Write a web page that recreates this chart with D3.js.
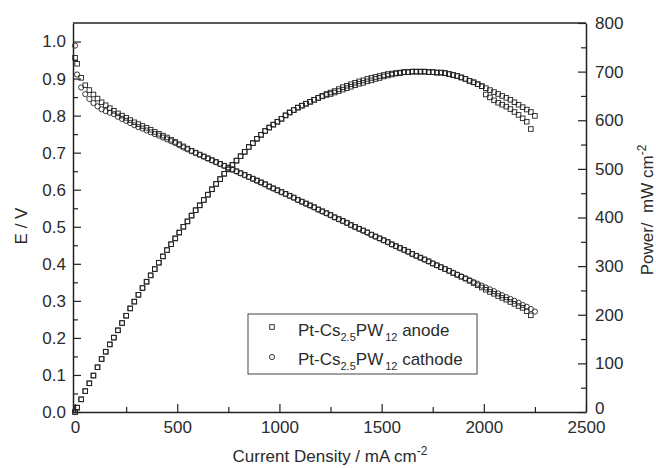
<!DOCTYPE html>
<html>
<head>
<meta charset="utf-8">
<title>Polarization and power density</title>
<script src="https://cdn.jsdelivr.net/npm/d3@7"></script>
<style>
  body { margin: 0; background: #fff; }
  svg text { font-family: "Liberation Sans", Arial, Helvetica, sans-serif; fill: #2b2b2b; }
</style>
</head>
<body>
<div id="chart"></div>
<script>

// data (current density in mA cm-2)
const current = [0,10,30,50,70,90,110,130,150,170,190,210,230,250,270,290,310,330,350,370,390,410,430,450,470,490,
  510,530,550,570,590,610,630,650,670,690,710,730,750,770,790,810,830,850,870,890,910,930,950,970,990,
  1010,1030,1050,1070,1090,1110,1130,1150,1170,1190,1210,1230,1250,1270,1290,1310,1330,1350,1370,1390,
  1410,1430,1450,1470,1490,1510,1530,1550,1570,1590,1610,1630,1650,1670,1690,1710,1730,1750,1770,1790,
  1810,1830,1850,1870,1890,1910,1930,1950,1970,1990,2010,2030,2050,2070,2090,2110,2130,2150,2170,2190,
  2210,2230,2250];

// cell voltage, V
const anodeE = [.956,.940,.902,.882,.869,.857,.846,.836,.828,.820,.813,.806,.800,.794,.788,.782,.777,.772,.767,.762,
  .756,.751,.746,.741,.735,.729,.723,.717,.711,.705,.700,.695,.690,.685,.680,.675,.670,.665,.660,.655,
  .650,.645,.640,.635,.630,.625,.620,.615,.609,.604,.599,.594,.589,.584,.579,.573,.568,.563,.558,.553,
  .547,.542,.537,.532,.526,.521,.516,.511,.505,.500,.495,.490,.485,.479,.474,.469,.464,.459,.453,.448,
  .443,.438,.433,.427,.422,.417,.412,.407,.401,.396,.391,.386,.381,.375,.370,.365,.360,.354,.348,.342,
  .336,.330,.324,.319,.313,.308,.303,.297,.292,.286,.281,.272,.261];
const cathodeE = [.989,.911,.876,.858,.845,.834,.825,.817,.812,.808,.804,.797,.791,.786,.780,.774,.769,.765,.760,.755,
  .750,.746,.741,.736,.731,.726,.720,.714,.709,.704,.699,.694,.689,.684,.679,.674,.669,.664,.659,.654,
  .649,.644,.639,.634,.629,.624,.619,.614,.608,.603,.598,.593,.588,.583,.578,.572,.567,.562,.557,.552,
  .546,.541,.536,.531,.525,.520,.515,.510,.504,.499,.494,.489,.484,.478,.473,.468,.463,.458,.452,.447,
  .442,.437,.432,.426,.421,.416,.411,.406,.401,.396,.391,.386,.381,.376,.371,.366,.361,.356,.351,.346,
  .341,.336,.331,.326,.320,.315,.310,.305,.300,.295,.289,.284,.278,.271];

// power density, mW cm-2
const anodePower = [0,9,26,43,59,75,92,109,124,139,153,168,183,198,213,227,241,255,268,281,
  294,307,320,333,345,357,369,381,392,404,415,425,436,447,458,469,479,490,499,508,
  517,526,535,545,553,562,570,578,585,591,597,603,610,616,621,626,630,634,638,642,
  646,650,654,657,660,664,668,671,674,677,680,682,685,687,689,691,693,695,696,697,
  698,699,699,700,700,700,700,699,699,698,698,697,695,693,691,688,685,681,678,674,
  670,653,647,641,636,632,628,623,617,611,604,597,582];
const cathodePower = [0,9,26,43,59,75,92,109,124,139,153,168,183,198,213,227,241,255,268,281,
  294,307,320,333,345,357,369,381,392,404,415,425,436,447,458,469,479,490,499,508,
  517,526,535,545,553,562,570,578,585,591,597,603,610,616,621,626,630,634,638,642,
  646,649,652,654,657,660,663,666,669,672,675,677,680,682,685,687,690,692,694,696,
  697,699,699,700,700,700,700,699,699,698,698,697,695,693,691,688,685,681,678,674,
  670,666,662,658,654,650,646,642,637,632,627,622,617,609];

const xTicks = [0, 500, 1000, 1500, 2000, 2500];
const xMinor = [250, 750, 1250, 1750, 2250];
const eTicks = [0, 0.1, 0.2, 0.3, 0.4, 0.5, 0.6, 0.7, 0.8, 0.9, 1.0];
const eMinor = [0.05, 0.15, 0.25, 0.35, 0.45, 0.55, 0.65, 0.75, 0.85, 0.95];
const pTicks = [0, 100, 200, 300, 400, 500, 600, 700, 800];
const pMinor = [50, 150, 250, 350, 450, 550, 650, 750];

const legendSub = ["2.5", "12"];
const legendNames = ["anode", "cathode"];

// layout
const width = 656, height = 468;
const plotL = 73, plotR = 586, plotT = 23, plotB = 412;
const ink = "#222";

const svg = d3.select("#chart").append("svg")
    .attr("width", width)
    .attr("height", height)
    .attr("viewBox", [0, 0, width, height]);

const x = d3.scaleLinear().domain([-10, 2500]).range([plotL, plotR]);
const yE = d3.scaleLinear().domain([0, 1.05]).range([plotB, plotT]);
const yP = d3.scaleLinear().domain([0, 800]).range([plotB, plotT]);

function styleAxis(g) {
  g.selectAll("path.domain").attr("stroke", ink).attr("stroke-width", 1.5);
  g.selectAll(".tick line").attr("stroke", ink).attr("stroke-width", 1.2);
  g.selectAll(".tick text").attr("fill", "#2b2b2b").style("font-size", "17px")
      .style("font-family", '"Liberation Sans", Arial, sans-serif');
}

function minor(axis, g) {
  g.call(axis);
  g.select("path.domain").remove();
  g.selectAll(".tick line").attr("stroke", ink).attr("stroke-width", 1.2);
}

// bottom axis
svg.append("g").attr("transform", `translate(0,${plotB})`)
  .call(d3.axisBottom(x).tickValues(xTicks).tickSizeInner(-8).tickSizeOuter(0).tickPadding(9).tickFormat(d3.format("d")))
  .call(styleAxis);
svg.append("g").attr("transform", `translate(0,${plotB})`)
  .call(g => minor(d3.axisBottom(x).tickValues(xMinor).tickSize(-5).tickFormat(""), g));

// left axis, voltage
svg.append("g").attr("transform", `translate(${plotL},0)`)
  .call(d3.axisLeft(yE).tickValues(eTicks).tickSizeInner(-8).tickSizeOuter(0).tickPadding(7).tickFormat(d3.format(".1f")))
  .call(styleAxis);
svg.append("g").attr("transform", `translate(${plotL},0)`)
  .call(g => minor(d3.axisLeft(yE).tickValues(eMinor).tickSize(-5).tickFormat(""), g));

// right axis, power
svg.append("g").attr("transform", `translate(${plotR},0)`)
  .call(d3.axisRight(yP).tickValues(pTicks).tickSizeInner(-8).tickSizeOuter(0).tickPadding(9).tickFormat(d3.format("d")))
  .call(styleAxis)
  .call(g => g.selectAll(".tick text").filter(d => d === 0).attr("dy", "0.1em"));
svg.append("g").attr("transform", `translate(${plotR},0)`)
  .call(g => minor(d3.axisRight(yP).tickValues(pMinor).tickSize(-5).tickFormat(""), g));

// top frame line
svg.append("line")
    .attr("x1", plotL).attr("x2", plotR)
    .attr("y1", plotT).attr("y2", plotT)
    .attr("stroke", ink).attr("stroke-width", 1.5);

// markers
const sq = 4.6;
function squares(ys, scale) {
  svg.append("g").selectAll("rect")
    .data(ys.map((v, i) => [current[i], v]))
    .join("rect")
      .attr("x", d => x(d[0]) - sq / 2)
      .attr("y", d => scale(d[1]) - sq / 2)
      .attr("width", sq).attr("height", sq)
      .attr("fill", "none").attr("stroke", ink).attr("stroke-width", 0.9);
}
function circles(ys, scale) {
  svg.append("g").selectAll("circle")
    .data(ys.map((v, i) => [current[i], v]))
    .join("circle")
      .attr("cx", d => x(d[0]))
      .attr("cy", d => scale(d[1]))
      .attr("r", 2.6)
      .attr("fill", "none").attr("stroke", ink).attr("stroke-width", 0.9);
}

squares(anodePower, yP);
squares(cathodePower, yP);
squares(anodeE, yE);
circles(cathodeE, yE);

// axis titles
svg.append("text")
    .attr("transform", `translate(27,226) rotate(-90)`)
    .attr("text-anchor", "middle")
    .style("font-size", "17px")
    .text("E / V");

const pt = svg.append("text")
    .attr("transform", `translate(653,210) rotate(-90)`)
    .attr("text-anchor", "middle")
    .style("font-size", "17px")
    .style("white-space", "pre");
pt.append("tspan").text("Power/  mW cm");
pt.append("tspan").attr("dy", -7).style("font-size", "12px").text("-2");

const xt = svg.append("text")
    .attr("x", 330).attr("y", 462)
    .attr("text-anchor", "middle")
    .style("font-size", "17px");
xt.append("tspan").text("Current Density / mA cm");
xt.append("tspan").attr("dy", -7).style("font-size", "12px").text("-2");

// legend
const lg = svg.append("g");
lg.append("rect")
    .attr("x", 248).attr("y", 314)
    .attr("width", 229).attr("height", 60)
    .attr("fill", "#fff").attr("stroke", "#444").attr("stroke-width", 1);

lg.append("rect").attr("x", 272 - sq / 2).attr("y", 327 - sq / 2)
    .attr("width", sq).attr("height", sq)
    .attr("fill", "none").attr("stroke", ink).attr("stroke-width", 0.9);
lg.append("circle").attr("cx", 272).attr("cy", 357).attr("r", 2.6)
    .attr("fill", "none").attr("stroke", ink).attr("stroke-width", 0.9);

legendNames.forEach((name, k) => {
  const t = lg.append("text")
      .attr("x", 298).attr("y", 336 + k * 29)
      .style("font-size", "17px");
  t.append("tspan").text("Pt-Cs");
  t.append("tspan").attr("dy", 5).style("font-size", "11px").text(legendSub[0]);
  t.append("tspan").attr("dy", -5).text("PW");
  t.append("tspan").attr("dy", 5).attr("dx", 2).style("font-size", "11px").text(legendSub[1]);
  t.append("tspan").attr("dy", -5).text(" " + name);
});

</script>
</body>
</html>
